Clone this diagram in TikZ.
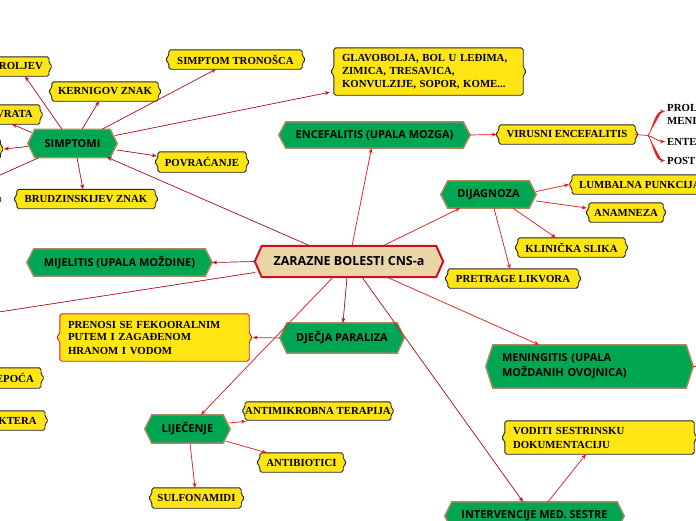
\documentclass[tikz,border=0pt]{standalone}
\usepackage{fontspec}
\setmainfont{Liberation Serif}
\newfontfamily\gfont{Open Sans}
\usetikzlibrary{arrows.meta,calc,backgrounds}

\definecolor{ygold}{RGB}{255,229,20}
\definecolor{ggreen}{RGB}{0,166,81}
\definecolor{gbord}{RGB}{168,138,98}
\definecolor{ctan}{RGB}{233,213,166}
\definecolor{cred}{RGB}{200,16,46}
\definecolor{darkr}{RGB}{178,24,36}
\definecolor{brightr}{RGB}{232,32,36}

\tikzset{
  ytext/.style={font=\fontsize{10.8}{13}\selectfont\bfseries, inner sep=0pt},
  gtext/.style={font=\gfont\fontsize{11}{15}\selectfont\bfseries, inner sep=0pt},
  ar/.style={-{Stealth[length=5pt,width=4pt]}, line width=0.7pt, draw=darkr, fill=darkr},
  arb/.style={-{Stealth[length=5pt,width=4pt]}, line width=0.7pt, draw=brightr, fill=brightr},
  arline/.style={line width=0.7pt, draw=brightr},
}

\newcommand\ybshape[2]{%
  \draw[draw=#1, fill=ygold, line width=0.9pt, rounded corners=1.8pt]
    (#2.north west) -- (#2.north east) -- ($(#2.east)+(0,-3.5)$) -- ($(#2.east)+(3.5,0)$)
    -- ($(#2.east)+(0,3.5)$) -- (#2.south east) -- (#2.south west) -- ($(#2.west)+(0,3.5)$)
    -- ($(#2.west)+(-3.5,0)$) -- ($(#2.west)+(0,-3.5)$) -- cycle;}
\newcommand\ghexshape[4]{% fill, border, width, node
  \draw[fill=#1, draw=#2, line width=#3] (#4.west) -- ($(#4.north west)+(7,0)$) -- ($(#4.north east)+(-7,0)$)
    -- (#4.east) -- ($(#4.south east)+(-7,0)$) -- ($(#4.south west)+(7,0)$) -- cycle;}

\begin{document}
\begin{tikzpicture}[x=1pt,y=-1pt]
\useasboundingbox (0,0) rectangle (696,520);

% central and green nodes
\node[gtext, font=\gfont\fontsize{12.5}{15}\selectfont\bfseries, minimum width=188pt, minimum height=31pt] (c) at (349,261.5) {ZARAZNE BOLESTI CNS-a};
\node[gtext, minimum width=89pt, minimum height=28pt] (sim) at (72.5,143.5) {SIMPTOMI};
\node[gtext, minimum width=191pt, minimum height=26pt] (enc) at (374.5,135) {ENCEFALITIS (UPALA MOZGA)};
\node[gtext, minimum width=95pt, minimum height=27pt] (dij) at (488.5,194.5) {DIJAGNOZA};
\node[gtext, minimum width=185pt, minimum height=27pt] (mij) at (119.5,262.5) {MIJELITIS (UPALA MOŽDINE)};
\node[gtext, minimum width=124pt, minimum height=30pt] (dje) at (342,338) {DJEČJA PARALIZA};
\node[gtext, inner xsep=16pt, text width=175pt, align=left, minimum height=43pt] (men) at (589.5,366.5) {MENINGITIS (UPALA\\MOŽDANIH OVOJNICA)};
\node[gtext, minimum width=85pt, minimum height=28pt] (lij) at (187.5,429) {LIJEČENJE};
\node[gtext, minimum width=179pt, minimum height=28pt] (int) at (534.5,516) {INTERVENCIJE MED. SESTRE};

% yellow boxes
\node[ytext, inner xsep=6pt, text width=100pt, align=right, minimum height=19pt, anchor=east] (rol) at (49,66.5) {ROLJEV};
\node[ytext, minimum width=106pt, minimum height=19pt] (ker) at (105,91.5) {KERNIGOV ZNAK};
\node[ytext, minimum width=133pt, minimum height=19pt] (tro) at (235.5,59.5) {SIMPTOM TRONOŠCA};
\node[ytext, inner xsep=8pt, text width=173pt, align=left, minimum height=47pt] (gla) at (428.5,71.5) {GLAVOBOLJA, BOL U LEĐIMA,\\ZIMICA, TRESAVICA,\\KONVULZIJE, SOPOR, KOME...};
\node[ytext, inner xsep=7pt, text width=100pt, align=right, minimum height=19pt, anchor=east] (vra) at (40,114.5) {VRATA};
\node[ytext, minimum width=80pt, minimum height=19pt, anchor=east] (ob1) at (0.5,149) {};
\node[ytext, minimum width=88pt, minimum height=20pt] (pov) at (202,162) {POVRAĆANJE};
\node[ytext, minimum width=138pt, minimum height=19pt] (bru) at (86,199) {BRUDZINSKIJEV ZNAK};
\node[ytext, minimum width=80pt, minimum height=19pt, anchor=east] (ob2) at (-1.5,199.5) {};
\node[ytext, minimum width=136pt, minimum height=19pt] (vir) at (567,134.5) {VIRUSNI ENCEFALITIS};
\node[ytext, inner xsep=7pt, minimum height=19pt, anchor=west] (lum) at (572,184.5) {LUMBALNA PUNKCIJA};
\node[ytext, minimum width=74pt, minimum height=19pt] (ana) at (626,212.5) {ANAMNEZA};
\node[ytext, minimum width=107pt, minimum height=19pt] (kli) at (571.5,247.5) {KLINIČKA SLIKA};
\node[ytext, minimum width=130pt, minimum height=19pt] (pre) at (513,278.5) {PRETRAGE LIKVORA};
\node[ytext, inner xsep=8pt, text width=173pt, align=left, minimum height=47pt] (pren) at (154.5,337.5) {PRENOSI SE FEKOORALNIM\\PUTEM I ZAGAĐENOM\\HRANOM I VODOM};
\node[ytext, inner xsep=7pt, text width=100pt, align=right, minimum height=20pt, anchor=east] (epo) at (41,378) {EPOĆA};
\node[ytext, inner xsep=8pt, text width=100pt, align=right, minimum height=19pt, anchor=east] (kte) at (45,420.5) {KTERA};
\node[ytext, minimum width=136pt, minimum height=18pt] (anti) at (318,411) {ANTIMIKROBNA TERAPIJA};
\node[ytext, minimum width=83pt, minimum height=19pt] (anb) at (301.5,462.5) {ANTIBIOTICI};
\node[ytext, minimum width=89pt, minimum height=20pt] (sul) at (196.5,498) {SULFONAMIDI};
\node[ytext, inner xsep=8pt, text width=173pt, align=left, minimum height=33pt, font=\fontsize{10.8}{14}\selectfont\bfseries] (vod) at (599.5,437.5) {VODITI SESTRINSKU\\DOKUMENTACIJU};

% plain texts
\node[ytext, align=left, anchor=west] (prol) at (667,114.5) {PROL\\MENI};
\node[ytext, anchor=west] (ente) at (667,141.5) {ENTE};
\node[ytext, anchor=west] (post) at (667,160.5) {POST};

\coordinate (offL1) at (-40,193);
\coordinate (offL2) at (-40,318);
\coordinate (offR) at (712,366.5);
\coordinate (fork) at (648,135.5);

\begin{pgfonlayer}{background}
  \fill[white] (0,0) rectangle (696,520);
  \ghexshape{ctan}{cred}{2pt}{c}
  \foreach \n in {sim,enc,dij,mij,dje,men,lij,int} {\ghexshape{ggreen}{gbord}{1.5pt}{\n}}
  \foreach \n in {rol,ker,tro,gla,vra,ob1,pov,bru,ob2,vir,lum,ana,kli,pre,epo,kte,anti,anb,sul,vod} {\ybshape{black!85}{\n}}
  \ybshape{brightr}{pren}
\end{pgfonlayer}

% connectors from central node
\draw[ar] ($(c.north)+(-39,0)$) -- ($(sim.south)+(34.5,-0.5)$);
\draw[arb] ($(c.north)+(3,0)$) -- ($(enc.south)+(-3,0)$);
\draw[arb] ($(c.north)+(34,0)$) -- ($(dij.south)+(-28.5,0)$);
\draw[ar] (c.west) -- (mij.east);
\draw[ar] ($(c.west)+(0,11)$) -- (offL2);
\draw[ar] ($(c.south)+(-2,0)$) -- ($(dje.north)+(1,0)$);
\draw[arb] ($(c.south)+(-16,0)$) -- ($(lij.north)+(13.5,0)$);
\draw[ar] ($(c.south)+(13,0)$) -- ($(int.north)+(-11.5,0)$);
\draw[arb] ($(c.south)+(38,0)$) -- ($(men.north)+(-50.5,0)$);

% SIMPTOMI
\draw[ar] ($(sim.north)+(-10.5,0)$) -- ($(rol.south east)+(-24,0)$);
\draw[ar] ($(sim.north)+(9.5,0)$) -- ($(ker.south)+(-6,0)$);
\draw[ar] ($(sim.north)+(29.5,0)$) -- ($(tro.south)+(-19.5,0)$);
\draw[ar] ($(sim.east)+(-2,-8)$) -- ($(gla.south west)+(-4,-3)$);
\draw[ar] ($(sim.west)+(4,-11)$) -- ($(vra.south east)+(-28,0)$);
\draw[ar] ($(sim.west)+(0,3)$) -- ($(ob1.east)+(3.5,0)$);
\draw[ar] ($(sim.south west)+(11,0)$) -- (offL1);
\draw[ar] ($(sim.east)+(0,6.5)$) -- ($(pov.west)+(-1,-6)$);
\draw[ar] ($(sim.south)+(4.5,0)$) -- ($(bru.north)+(-3,0)$);

% ENCEFALITIS
\draw[arb] (enc.east) -- ($(vir.west)+(-2,0)$);
\draw[arline] (vir.east) -- (fork);
\draw[arb] (fork) .. controls ($(fork)+(4,-4)$) and ($(prol.west)+(-12,-3)$) .. ($(prol.west)+(-2,-3)$);
\draw[arb] (fork) .. controls ($(fork)+(5,1)$) and ($(ente.west)+(-9,0)$) .. ($(ente.west)+(-2,0)$);
\draw[arb] (fork) .. controls ($(fork)+(4,4)$) and ($(post.west)+(-12,0)$) .. ($(post.west)+(-2,0)$);

% DIJAGNOZA
\draw[arb] ($(dij.east)+(0,-3)$) -- ($(lum.west)+(-3,0)$);
\draw[arb] ($(dij.east)+(0,6.5)$) -- ($(ana.west)+(-2,-4.5)$);
\draw[arb] ($(dij.south)+(24.5,0)$) -- ($(kli.north)+(-15.5,0)$);
\draw[arb] ($(dij.south)+(5.5,0)$) -- ($(pre.north)+(-3,0)$);

% others
\draw[arb] (dje.west) -- ($(pren.east)+(3.5,0)$);
\draw[arline] (men.east) -- (offR);
\draw[arb] ($(lij.east)+(-1,-6)$) -- ($(anti.south west)+(1,1)$);
\draw[arb] ($(lij.south east)+(-4,-2)$) -- ($(anb.north west)+(7,0)$);
\draw[arb] ($(lij.south)+(2.5,0)$) -- ($(sul.north)+(-1.5,0)$);
\draw[arb] ($(int.north)+(13.5,0)$) -- ($(vod.south)+(-13.5,0)$);
\end{tikzpicture}
\end{document}
